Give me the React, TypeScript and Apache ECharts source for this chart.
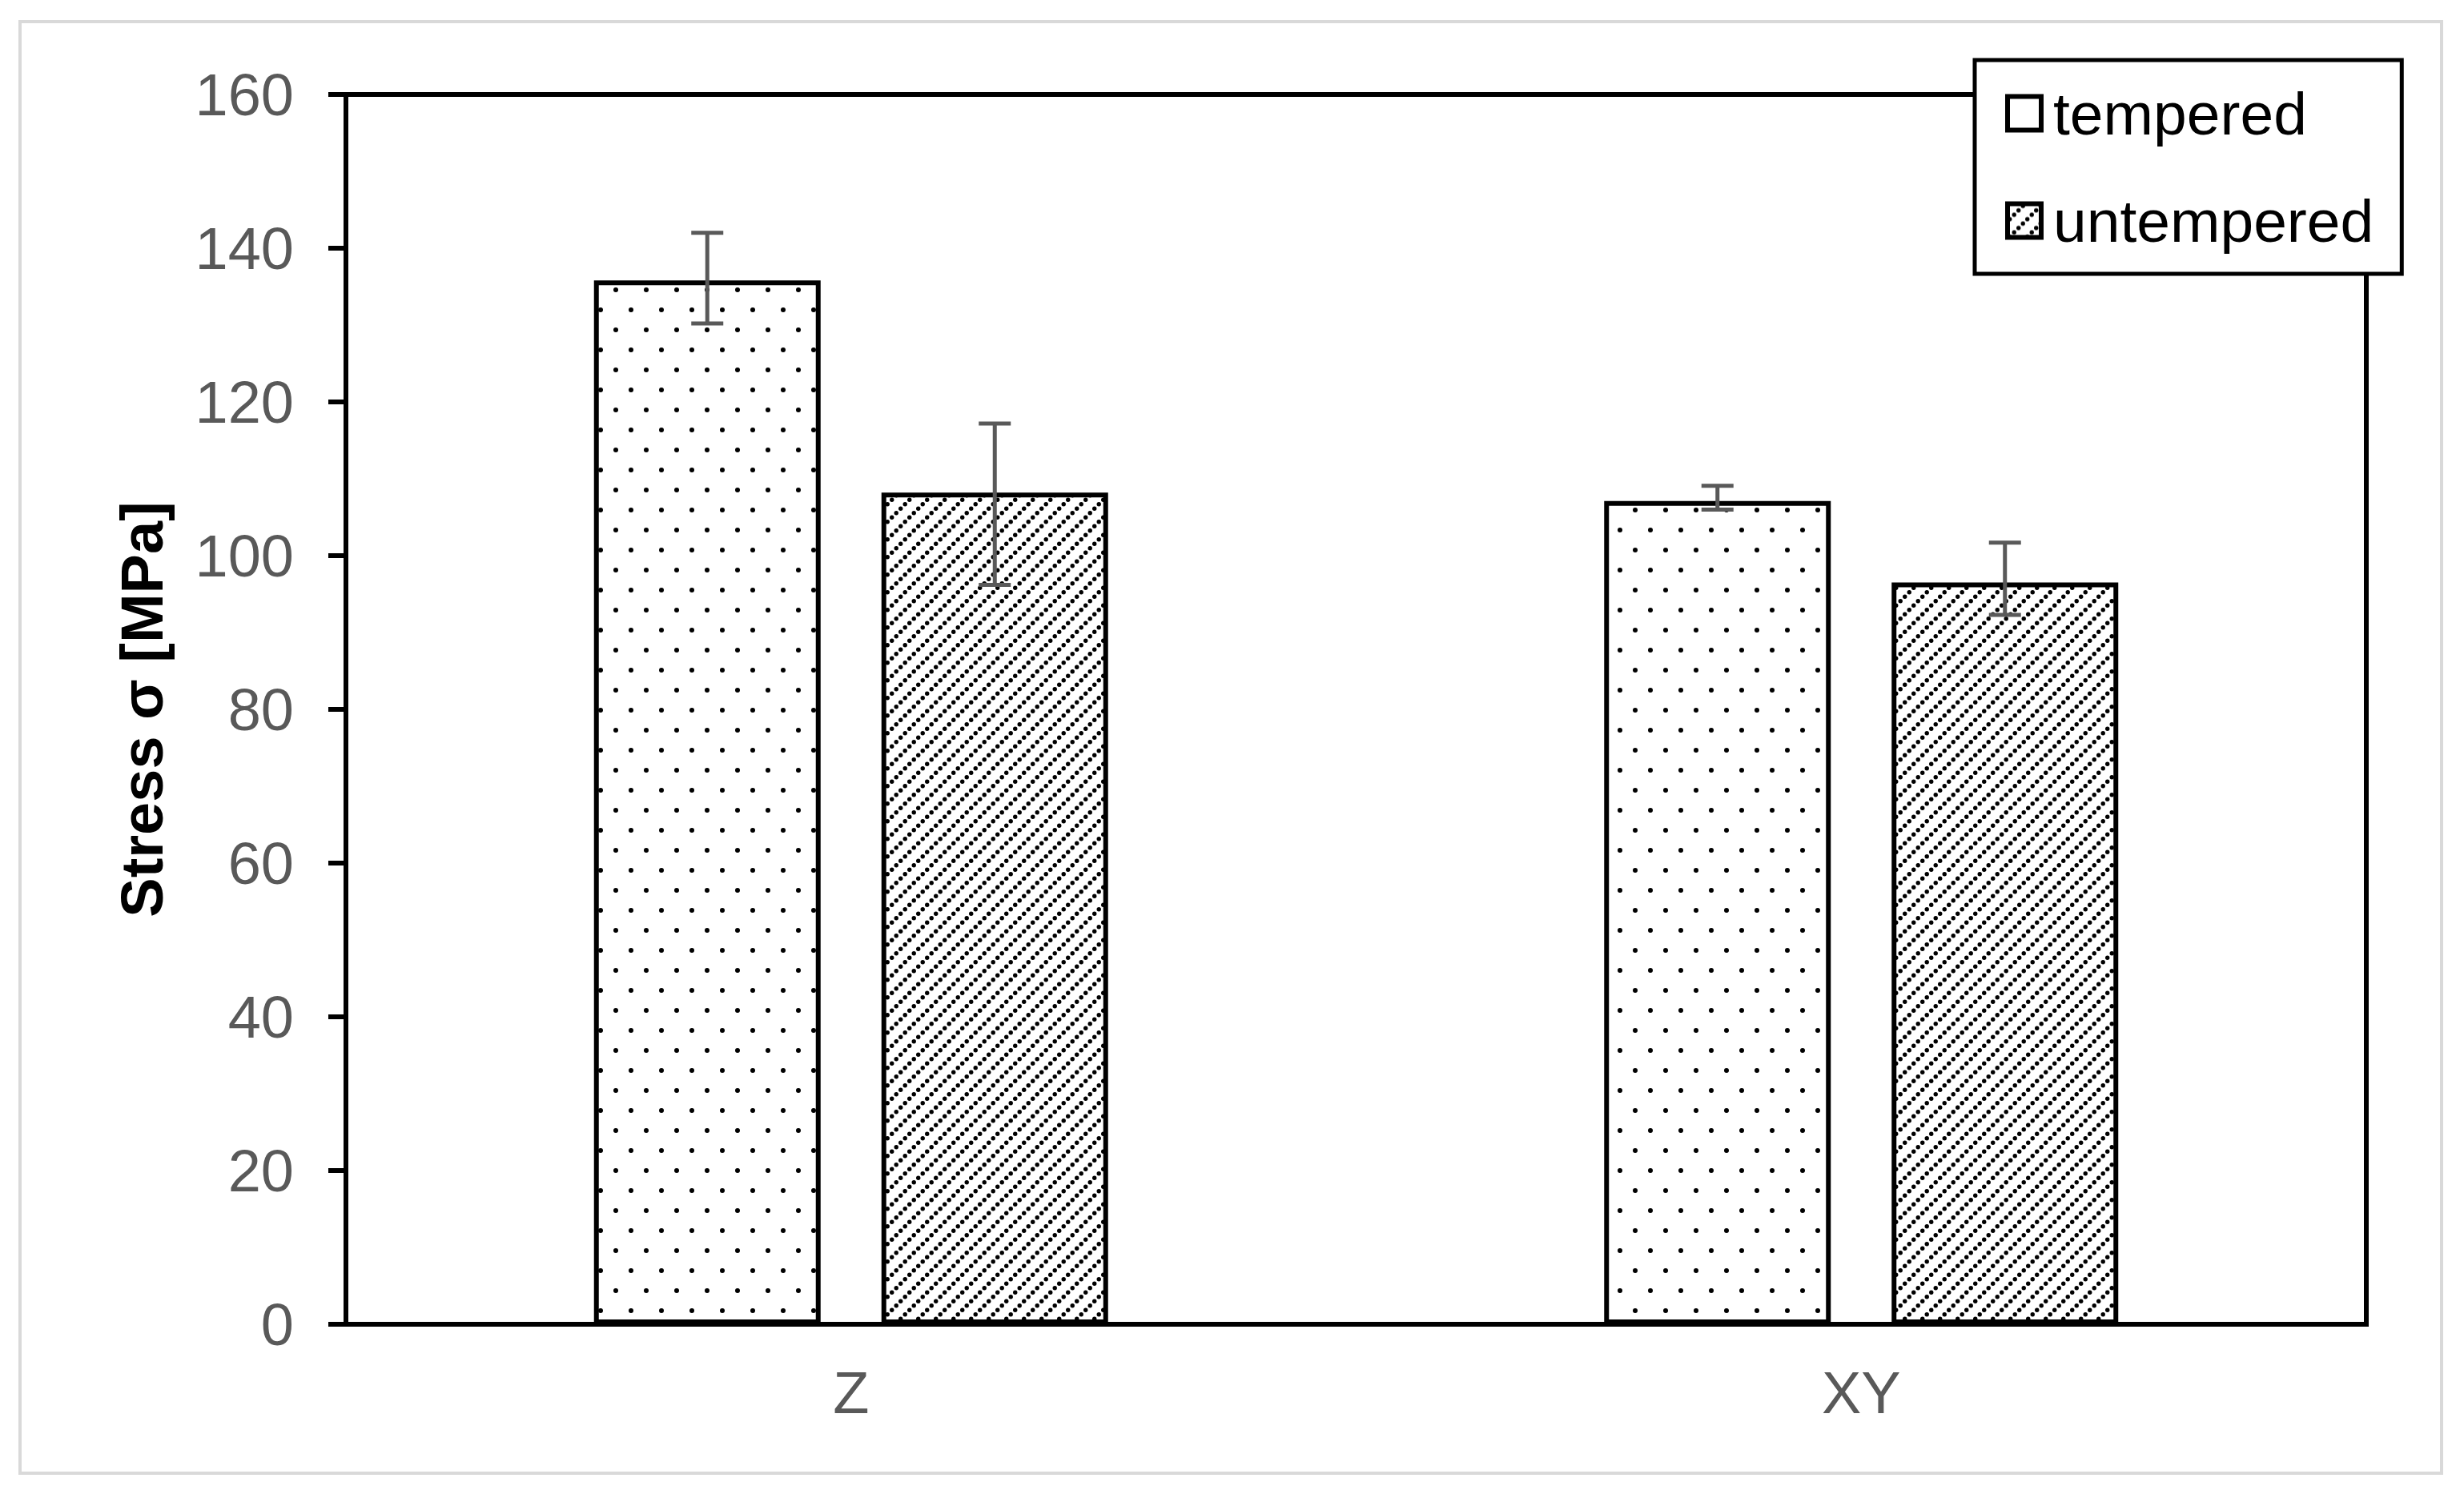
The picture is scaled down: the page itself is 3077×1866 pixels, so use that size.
import React, { useEffect, useRef } from "react";
import * as echarts from "echarts";

const categories = ["Z", "XY"];
const seriesNames = ["tempered", "untempered"];
const temperedValues = [135.8, 107.1];
const untemperedValues = [108.2, 96.5];
const temperedErrLow = [130.2, 106.0];
const temperedErrHigh = [142.0, 109.1];
const untemperedErrLow = [96.2, 92.3];
const untemperedErrHigh = [117.2, 101.7];
const yMin = 0;
const yMax = 160;
const yInterval = 20;
const yAxisTitle = "Stress σ [MPa]";

const FONT = "'Liberation Sans', Arial, Helvetica, sans-serif";

function svgUrl(svg: string) {
  return "data:image/svg+xml;charset=utf-8," + encodeURIComponent(svg);
}

function dotPattern() {
  const svg =
    '<svg xmlns="http://www.w3.org/2000/svg" width="38" height="50">' +
    '<circle cx="9" cy="12" r="3" fill="#000"/>' +
    '<circle cx="28" cy="37" r="3" fill="#000"/>' +
    "</svg>";
  return { image: svgUrl(svg), repeat: "repeat", imageWidth: 38, imageHeight: 50 };
}

function hatchPattern() {
  const s = 22;
  const n = 4;
  const step = s / n;
  let circles = "";
  for (let k = 0; k < n; k++) {
    const x = step / 2 + step * k;
    circles += `<circle cx="${x}" cy="${s - x}" r="2.7" fill="#000"/>`;
  }
  const svg = `<svg xmlns="http://www.w3.org/2000/svg" width="${s}" height="${s}">${circles}</svg>`;
  return { image: svgUrl(svg), repeat: "repeat", imageWidth: s, imageHeight: s };
}

const BAR_WIDTH = 283;
const BAR_GAP_PX = 76;

export default function App() {
  const ref = useRef<HTMLDivElement>(null);

  useEffect(() => {
    if (!ref.current) return;
    const chart = echarts.init(ref.current, null, { renderer: "svg" });

    const offset = (BAR_WIDTH + BAR_GAP_PX) / 2;
    const errData = (lows: number[], highs: number[]) =>
      categories.map((_, i) => [i, lows[i], highs[i]]);

    const makeErrSeries = (name: string, lows: number[], highs: number[], dx: number) => ({
      type: "custom",
      name: name + "-err",
      z: 10,
      data: errData(lows, highs),
      encode: { x: 0, y: [1, 2] },
      renderItem: (params: any, api: any) => {
        const idx = api.value(0);
        const lo = api.coord([idx, api.value(1)]);
        const hi = api.coord([idx, api.value(2)]);
        const cx = lo[0] + dx;
        const cap = 20;
        const style = { stroke: "#595959", lineWidth: 5 };
        return {
          type: "group",
          children: [
            { type: "line", shape: { x1: cx, y1: hi[1], x2: cx, y2: lo[1] }, style },
            { type: "line", shape: { x1: cx - cap, y1: hi[1], x2: cx + cap, y2: hi[1] }, style },
            { type: "line", shape: { x1: cx - cap, y1: lo[1], x2: cx + cap, y2: lo[1] }, style },
          ],
        };
      },
    });

    const option: any = {
      animation: false,
      backgroundColor: "#fff",
      textStyle: { fontFamily: FONT },
      graphic: [
        {
          type: "rect",
          silent: true,
          shape: { x: 25, y: 27, width: 3024, height: 1813 },
          style: { fill: "none", stroke: "#d9d9d9", lineWidth: 4 },
        },
      ],
      grid: {
        left: 432,
        top: 118,
        width: 2523,
        height: 1536,
        show: true,
        borderColor: "#000",
        borderWidth: 6,
        backgroundColor: "transparent",
      },
      legend: {
        orient: "vertical",
        left: 2466,
        top: 75,
        padding: [29, 35, 29, 38],
        itemWidth: 42,
        itemHeight: 42,
        itemGap: 59,
        backgroundColor: "#fff",
        borderColor: "#000",
        borderWidth: 5,
        borderRadius: 0,
        textStyle: {
          fontFamily: FONT,
          fontSize: 75,
          lineHeight: 75,
          color: "#000",
          padding: [0, 0, 0, 10],
        },
        data: [
          {
            name: seriesNames[0],
            icon: "rect",
            itemStyle: { color: "#fff", borderColor: "#000", borderWidth: 6 },
          },
          {
            name: seriesNames[1],
            icon: "rect",
            itemStyle: { color: hatchPattern(), borderColor: "#000", borderWidth: 6 },
          },
        ],
      },
      xAxis: {
        type: "category",
        data: categories,
        axisLine: { show: true, lineStyle: { color: "#000", width: 6 } },
        axisTick: { show: false },
        axisLabel: { fontFamily: FONT, fontSize: 74, color: "#595959", margin: 48 },
        splitLine: { show: false },
      },
      yAxis: {
        type: "value",
        min: yMin,
        max: yMax,
        interval: yInterval,
        name: yAxisTitle,
        nameLocation: "middle",
        nameGap: 218,
        nameTextStyle: { fontFamily: FONT, fontSize: 74, fontWeight: "bold", color: "#000" },
        axisLine: { show: true, lineStyle: { color: "#000", width: 6 } },
        axisTick: { show: true, length: 22, lineStyle: { color: "#000", width: 6 } },
        axisLabel: { fontFamily: FONT, fontSize: 74, color: "#595959", margin: 65 },
        splitLine: { show: false },
      },
      series: [
        {
          type: "bar",
          name: seriesNames[0],
          data: temperedValues,
          barWidth: BAR_WIDTH,
          barGap: (BAR_GAP_PX / BAR_WIDTH) * 100 + "%",
          itemStyle: { color: dotPattern(), borderColor: "#000", borderWidth: 6 },
        },
        {
          type: "bar",
          name: seriesNames[1],
          data: untemperedValues,
          barWidth: BAR_WIDTH,
          barGap: (BAR_GAP_PX / BAR_WIDTH) * 100 + "%",
          itemStyle: { color: hatchPattern(), borderColor: "#000", borderWidth: 6 },
        },
        makeErrSeries(seriesNames[0], temperedErrLow, temperedErrHigh, -offset),
        makeErrSeries(seriesNames[1], untemperedErrLow, untemperedErrHigh, offset),
      ],
    };

    chart.setOption(option);
    return () => chart.dispose();
  }, []);

  return (
    <div
      ref={ref}
      style={{ position: "fixed", left: 0, top: 0, width: 3077, height: 1866, background: "#fff" }}
    />
  );
}
